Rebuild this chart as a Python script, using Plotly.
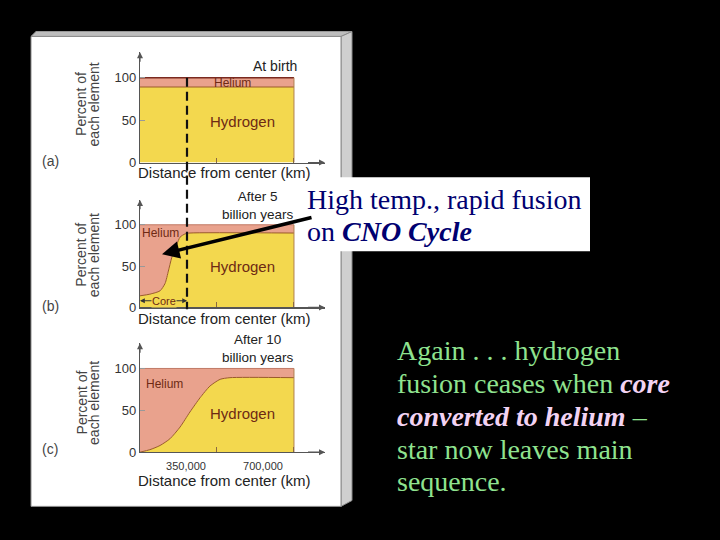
import plotly.graph_objects as go

W, H = 720, 540


def px(x):
    return x / W


def py(y):
    return 1 - y / H


# ---------------- data ----------------
radius_a_km = [0, 700000]
hydrogen_a_pct = [89, 89]

radius_b_km = [0, 45000, 91000, 114000, 129000, 144000, 167000, 182000, 205000, 227000, 700000]
hydrogen_b_pct = [14, 16, 20, 29, 44, 60, 76, 85, 89, 90, 90]

radius_c_km = [0, 45000, 91000, 136000, 182000, 227000, 273000, 318000, 364000, 409000, 700000]
hydrogen_c_pct = [0, 3, 8, 16, 30, 48, 65, 79, 87, 89, 89]

total_pct = 100
y_ticks = [0, 50, 100]
x_tickvals = [350000, 700000]
x_ticktext = ["350,000", "700,000"]
panel_labels = ["(a)", "(b)", "(c)"]
panel_titles = ["At birth", "After 5<br>billion years", "After 10<br>billion years"]

YELLOW = "#f3d84e"
SALMON = "#e9a28d"
CURVE = "#9a5a28"
TEXT = "#333333"
LABEL = "#6e2a14"
SANS = "Arial, Liberation Sans, sans-serif"
SERIF = "Times New Roman, Liberation Serif, serif"

fig = go.Figure()

# panel geometry in pixels: (y of 0, y of axis top)
geom = [(165, 53), (312, 203), (459, 348.5)]
series = [(radius_a_km, hydrogen_a_pct), (radius_b_km, hydrogen_b_pct), (radius_c_km, hydrogen_c_pct)]
XMAX = 841000
YMAX = 130

layout_axes = {}
for i, ((r, h), (y0, y1)) in enumerate(zip(series, geom)):
    n = "" if i == 0 else str(i + 1)
    xa, ya = "x" + n, "y" + n
    fig.add_trace(go.Scatter(x=r, y=h, xaxis=xa, yaxis=ya, mode="lines",
                             line=dict(color=CURVE, width=1, shape="spline", smoothing=0.6),
                             fill="tozeroy", fillcolor=YELLOW, hoverinfo="skip", showlegend=False))
    fig.add_trace(go.Scatter(x=[r[0], r[-1]], y=[total_pct, total_pct], xaxis=xa, yaxis=ya, mode="lines",
                             line=dict(color="#7a2a20" if i == 0 else "#c07a66", width=1.5 if i == 0 else 1),
                             fill="tonexty", fillcolor=SALMON, hoverinfo="skip", showlegend=False))
    # right edge of the star
    fig.add_trace(go.Scatter(x=[r[-1], r[-1]], y=[0, total_pct], xaxis=xa, yaxis=ya, mode="lines",
                             line=dict(color="#b08050", width=1), hoverinfo="skip", showlegend=False))
    layout_axes["xaxis" + n] = dict(
        domain=[px(140), px(325)], range=[0, XMAX], anchor=ya,
        showline=True, linecolor="#555", linewidth=1.2, showgrid=False, zeroline=False,
        tickvals=x_tickvals, ticktext=x_ticktext, ticks="inside", ticklen=5, tickcolor="#8a6a40",
        showticklabels=(i == 2), ticklabelshift=-31, ticklabelstandoff=3,
        tickfont=dict(family=SANS, size=11, color=TEXT), fixedrange=True)
    layout_axes["yaxis" + n] = dict(
        domain=[py(y0), py(y1)], range=[0, YMAX], anchor=xa,
        showline=True, linecolor="#555", linewidth=1.2, showgrid=False, zeroline=False,
        tickvals=y_ticks, ticks="inside", ticklen=5, tickcolor="#999",
        tickfont=dict(family=SANS, size=13, color=TEXT), fixedrange=True)

fig.update_layout(**layout_axes)

shapes = []
# slide panel (beveled card)
shapes.append(dict(type="path", xref="paper", yref="paper", layer="below",
                   path=f"M {px(31)},{py(37)} L {px(36)},{py(32)} L {px(352)},{py(32)} L {px(341)},{py(37)} Z",
                   fillcolor="#bdbdbd", line=dict(color="#9a9a9a", width=1)))
shapes.append(dict(type="path", xref="paper", yref="paper", layer="below",
                   path=f"M {px(341)},{py(37)} L {px(352)},{py(32)} L {px(352)},{py(508)} L {px(341)},{py(514)} Z",
                   fillcolor="#cfcfcf", line=dict(color="#8a8a8a", width=1)))
shapes.append(dict(type="rect", xref="paper", yref="paper", layer="below",
                   x0=px(31), x1=px(341), y0=py(514), y1=py(37),
                   fillcolor="#ffffff", line=dict(color="#8a8a8a", width=1)))
# white text box
shapes.append(dict(type="rect", xref="paper", yref="paper", layer="below",
                   x0=px(300), x1=px(590), y0=py(255), y1=py(180),
                   fillcolor="#ffffff", line=dict(width=0)))
# dashed core boundary
shapes.append(dict(type="line", xref="paper", yref="paper", layer="above",
                   x0=px(187), x1=px(187), y0=py(79), y1=py(314),
                   line=dict(color="#111", width=2.2, dash="9px,5px")))
fig.update_layout(shapes=shapes)

ann = []


def txt(x, y, s, size=12, color=TEXT, family=SANS, xanchor="center", angle=0, **kw):
    ann.append(dict(x=px(x), y=py(y), xref="paper", yref="paper", text=s, showarrow=False,
                    xanchor=xanchor, yanchor="middle", textangle=angle,
                    font=dict(family=family, size=size, color=color), **kw))


for i, (y0, y1) in enumerate(geom):
    n = "" if i == 0 else str(i + 1)
    xa, ya = "x" + n, "y" + n
    # axis arrowheads
    ann.append(dict(x=XMAX, y=0, ax=XMAX * 0.9, ay=0, xref=xa, yref=ya, axref=xa, ayref=ya,
                    showarrow=True, arrowhead=2, arrowsize=1, arrowwidth=1.2, arrowcolor="#555", text=""))
    ann.append(dict(x=0, y=YMAX, ax=0, ay=YMAX * 0.9, xref=xa, yref=ya, axref=xa, ayref=ya,
                    showarrow=True, arrowhead=2, arrowsize=1, arrowwidth=1.2, arrowcolor="#555", text=""))

pan_y = [(163, 106, 175, 67), (311, 259, 323, 209), (456, 409, 488, 354)]
for lab, title, (ly, ty, dy, hy) in zip(panel_labels, panel_titles, pan_y):
    txt(50, ly, lab, size=14, color="#444")
    txt(81.5, ty, "Percent of", size=14, color="#444", angle=-90)
    txt(94, ty, "each element", size=14, color="#444", angle=-90)
    txt(224, dy, "Distance from center (km)", size=15, color="#222")
    txt(258 if "<br>" in title else 275, hy, title, size=13.5 if "<br>" in title else 14, color="#222")

# element labels
txt(232, 84, "Helium", size=12, color=LABEL)
txt(242, 123, "Hydrogen", size=15, color=LABEL)
txt(160, 237, "Helium", size=12, color=LABEL)
txt(242, 271, "Hydrogen", size=15, color=LABEL)
txt(164, 390, "Helium", size=12, color=LABEL)
txt(242, 420, "Hydrogen", size=15, color=LABEL)

# core marker in (b)
ann.append(dict(x=0, y=8, ax=70000, ay=8, xref="x2", yref="y2", axref="x2", ayref="y2", text="",
                showarrow=True, arrowhead=2, arrowsize=0.8, arrowwidth=1.2, arrowcolor="#333"))
ann.append(dict(x=214000, y=8, ax=150000, ay=8, xref="x2", yref="y2", axref="x2", ayref="y2", text="",
                showarrow=True, arrowhead=2, arrowsize=0.8, arrowwidth=1.2, arrowcolor="#333"))
ann.append(dict(x=110000, y=8, xref="x2", yref="y2", text="Core", showarrow=False, bgcolor=YELLOW,
                borderpad=0, font=dict(family=SANS, size=11, color=LABEL)))

# big pointer arrow (tail offset in pixels)
ann.append(dict(x=px(162), y=py(258), ax=313 - 162, ay=221 - 258, xref="paper", yref="paper",
                axref="pixel", ayref="pixel", text="", showarrow=True, arrowhead=2,
                arrowsize=1, arrowwidth=3.5, arrowcolor="#000"))

# text box
NAVY = "#000070"
txt(305, 203, "High temp., rapid fusion", size=28, color=NAVY, family=SERIF, xanchor="left")
txt(305, 235, "on <b><i>CNO Cycle</i></b>", size=28, color=NAVY, family=SERIF, xanchor="left")

# right-hand commentary
GREEN = "#8fe38f"
PINK = "#f3d3f3"
right_lines = [
    "Again . . . hydrogen",
    f"fusion ceases when <span style='color:{PINK}'><b><i>core</i></b></span>",
    f"<span style='color:{PINK}'><b><i>converted to helium</i></b></span> –",
    "star now leaves main",
    "sequence.",
]
for k, line in enumerate(right_lines):
    txt(395, 356 + 33.3 * k, line, size=28, color=GREEN, family=SERIF, xanchor="left")

fig.update_layout(annotations=ann, width=W, height=H, margin=dict(l=0, r=0, t=0, b=0),
                  paper_bgcolor="#000000", plot_bgcolor="rgba(0,0,0,0)", showlegend=False)

fig.write_html("out.html", config={"displayModeBar": False, "staticPlot": True},
               post_script="document.body.style.margin='0';document.body.style.background='#000';")
